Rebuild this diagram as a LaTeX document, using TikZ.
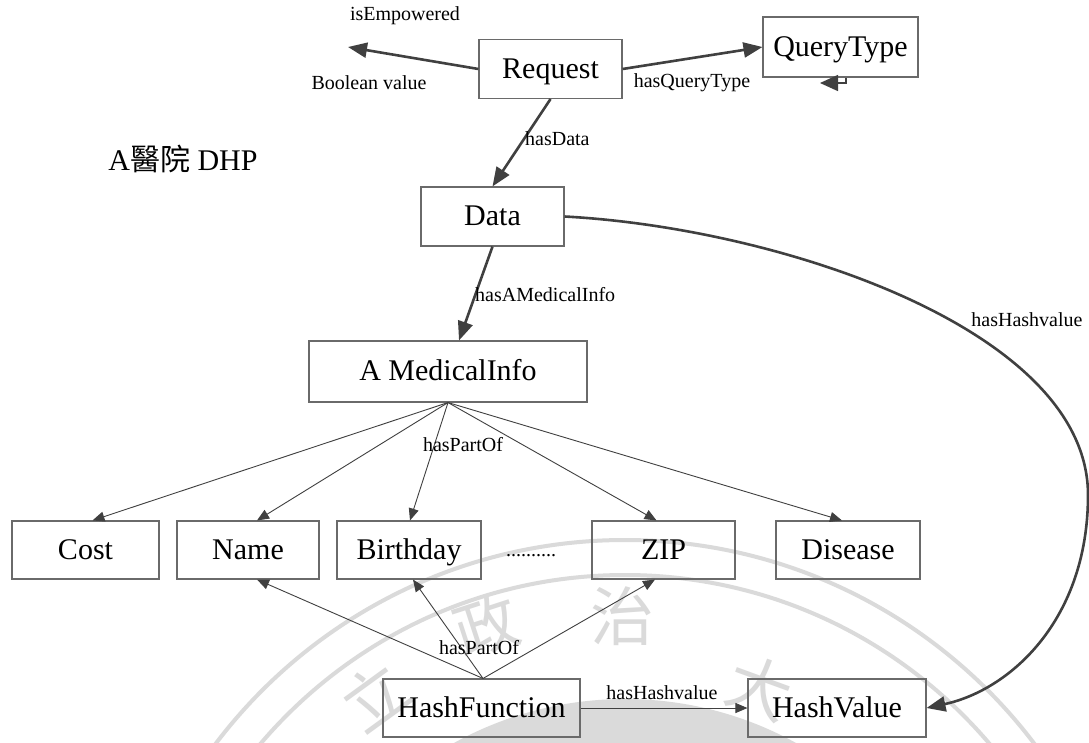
\documentclass[tikz,border=0pt]{standalone}
\usepackage{fontspec}
\setmainfont{Liberation Serif}
\newfontfamily\cjk{Noto Sans CJK TC}
\usetikzlibrary{arrows.meta}
\definecolor{linkgray}{HTML}{404040}
\definecolor{framegray}{HTML}{6A6A6A}
\definecolor{sealgray}{HTML}{DADADA}
\begin{document}
\begin{tikzpicture}[x=1pt,y=-1pt,
  box/.style={draw=framegray, line width=1.1pt, inner sep=0pt,
              text height=22pt, text depth=4pt,
              minimum height=59pt, font=\fontsize{30}{30}\selectfont},
  lbl/.style={font=\fontsize{20}{20}\selectfont, inner sep=0pt},
  boldlink/.style={draw=linkgray, line width=2.6pt,
                   -{Triangle[length=19pt,width=15pt]}},
  looplink/.style={draw=linkgray, line width=1.5pt,
                   -{Triangle[length=18pt,width=16pt]}},
  thinlink/.style={draw=linkgray, line width=0.9pt,
                   -{Triangle[length=12pt,width=10pt]}},
  sealchar/.style={text=sealgray, inner sep=0pt,
                   font=\cjk\fontsize{64}{64}\selectfont},
]
\useasboundingbox (0,0) rectangle (1089,742);
\fill[white] (0,0) rectangle (1089,742);

% university seal in the background
\begin{scope}
  \clip (0,0) rectangle (1089,742);
  \fill[sealgray] (625,1053) circle[radius=354];
  \draw[sealgray, line width=4pt] (625,1053) circle[radius=513];
  \draw[sealgray, line width=4pt] (625,1053) circle[radius=478];
  \node[sealchar, rotate=36]  (sa) at (374,696) {立};
  \node[sealchar, rotate=18]  (sb) at (486,626) {政};
  \node[sealchar, rotate=0]   (sc) at (622,616) {治};
  \node[sealchar, rotate=-20] (sd) at (760,688) {大};
\end{scope}

% concept boxes
\node[box, minimum width=143pt] (req) at (550.5,69) {Request};
\node[box, minimum width=155pt, minimum height=60pt] (qt) at (840.5,47) {QueryType};
\node[box, minimum width=143pt] (data) at (492.5,216.5) {Data};
\node[box, minimum width=278pt, minimum height=61pt] (mi) at (448,371.5) {A MedicalInfo};
\node[box, minimum width=147pt, minimum height=58pt] (cost) at (85.5,550) {Cost};
\node[box, minimum width=142pt, minimum height=58pt] (name) at (248,550) {Name};
\node[box, minimum width=144pt, minimum height=58pt] (bday) at (409,550) {Birthday};
\node[box, minimum width=143pt, minimum height=58pt] (zip) at (663.5,550) {ZIP};
\node[box, minimum width=144pt, minimum height=58pt] (dis) at (848,550) {Disease};
\node[box, minimum width=197pt, minimum height=58pt] (hf) at (481.5,708) {HashFunction};
\node[box, minimum width=178pt, minimum height=58pt] (hv) at (837,708) {HashValue};

% heading
\node[inner sep=0pt, font=\fontsize{30}{30}\selectfont] (title) at (183,159)
  {A{\cjk 醫院} DHP};

% request relations
\coordinate (boolend) at (348,47);
\coordinate (qtret) at (820,83);
\draw[boldlink] (req.west) -- (boolend);
\draw[boldlink] (req.east) -- (qt.west);
\draw[looplink] ([xshift=5.5pt]qt.south) |- (qtret);
\draw[boldlink] (req.south) -- (data.north);
\draw[boldlink] (data.south) -- ([xshift=11pt]mi.north);

% data to hash value
\coordinate (swing) at (1088,495);
\draw[boldlink] (data.east) .. controls (780,228) and (1088,330) .. (swing)
  .. controls (1088,620) and (1010,690) .. (hv.east);

% parts of the medical record
\draw[thinlink] (mi.south) -- ([xshift=7pt]cost.north);
\draw[thinlink] (mi.south) -- ([xshift=9pt]name.north);
\draw[thinlink] (mi.south) -- ([xshift=1pt]bday.north);
\draw[thinlink] (mi.south) -- ([xshift=-7pt]zip.north);
\draw[thinlink] (mi.south) -- ([xshift=-6pt]dis.north);

% hash function inputs and output
\draw[thinlink] ([xshift=1.5pt]hf.north) -- ([xshift=9pt]name.south);
\draw[thinlink] ([xshift=1.5pt]hf.north) -- ([xshift=4pt]bday.south);
\draw[thinlink] ([xshift=1.5pt]hf.north) -- ([xshift=-8.5pt]zip.south);
\draw[thinlink] (hf.east) -- (hv.west);

% relation labels
\node[lbl] (l1) at (405,16) {isEmpowered};
\node[lbl] (l2) at (369,83) {Boolean value};
\node[lbl] (l3) at (692,83) {hasQueryType};
\node[lbl, anchor=west] (l4) at (525,139) {hasData};
\node[lbl, anchor=west] (l5) at (475,295) {hasAMedicalInfo};
\node[lbl] (l6) at (463,445) {hasPartOf};
\node[lbl] (l7) at (479,648) {hasPartOf};
\node[lbl] (l8) at (662,693) {hasHashvalue};
\node[lbl] (l9) at (1027,320) {hasHashvalue};
\node[lbl, anchor=base] (dots) at (531,556) {..........};
\end{tikzpicture}
\end{document}
